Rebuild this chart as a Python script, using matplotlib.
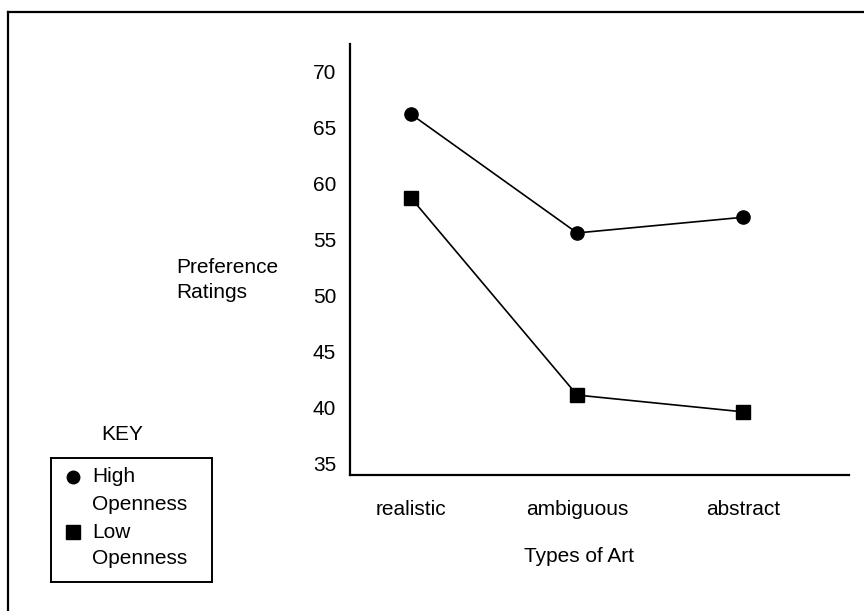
"""
Preference ratings by type of art, high vs low openness.
"""

import matplotlib.pyplot as plt
from matplotlib.lines import Line2D

# ── DATA ──────────────────────────────────────────────────────────────────────
art_types     = ["realistic", "ambiguous", "abstract"]
high_openness = [66.2, 55.6, 57.0]
low_openness  = [58.7, 41.1, 39.6]
y_ticks       = [35, 40, 45, 50, 55, 60, 65, 70]

W, H = 864, 611
FONT = ["Liberation Sans", "DejaVu Sans"]
FS   = 15

plt.rcParams["font.family"] = FONT


def fx(px):
    return px / W


def fy(py):
    return 1 - py / H


def main():
    fig = plt.figure(figsize=(W / 100, H / 100), dpi=100)

    # ── outer frame (open at bottom/right like the scan) ─────────────────────
    fig.add_artist(Line2D([fx(8), fx(864)], [fy(12), fy(12)], color="black", lw=1.6))
    fig.add_artist(Line2D([fx(8), fx(8)], [fy(12), fy(611)], color="black", lw=1.6))

    # ── main plot ────────────────────────────────────────────────────────────
    ax = fig.add_axes([fx(350), fy(475), fx(849) - fx(350), fy(44) - fy(475)])
    x = list(range(len(art_types)))
    ax.plot(x, high_openness, color="black", lw=1.2, marker="o", ms=9.5,
            markeredgecolor="black", markerfacecolor="black")
    ax.plot(x, low_openness, color="black", lw=1.2, marker="s", ms=10.5,
            markeredgecolor="black", markerfacecolor="black")

    ax.set_xlim(-0.37, 2.64)
    ax.set_ylim(33.95, 72.5)
    ax.set_xticks(x)
    ax.set_xticklabels(art_types, fontsize=FS)
    ax.set_yticks(y_ticks)
    ax.set_yticklabels([str(v) for v in y_ticks], fontsize=FS)
    ax.tick_params(axis="both", length=0)
    ax.tick_params(axis="y", pad=10)
    ax.tick_params(axis="x", pad=18)
    for side in ("top", "right"):
        ax.spines[side].set_visible(False)
    for side in ("left", "bottom"):
        ax.spines[side].set_linewidth(1.6)

    fig.text(fx(579), fy(556), "Types of Art", fontsize=FS, ha="center", va="center")
    fig.text(fx(176), fy(280), "Preference\nRatings", fontsize=FS, ha="left",
             va="center", linespacing=1.45)

    # ── key ──────────────────────────────────────────────────────────────────
    fig.text(fx(122), fy(435), "KEY", fontsize=FS, ha="center", va="center")
    kax = fig.add_axes([fx(51), fy(582), fx(212) - fx(51), fy(458) - fy(582)])
    kax.set_xlim(51, 212)
    kax.set_ylim(582, 458)
    kax.set_xticks([])
    kax.set_yticks([])
    for s in kax.spines.values():
        s.set_linewidth(1.4)
    kax.plot([73], [477], marker="o", ms=9, color="black", ls="none")
    kax.plot([73], [532], marker="s", ms=10, color="black", ls="none")
    for yy, txt in [(477, "High"), (505, "Openness"), (532, "Low"), (558, "Openness")]:
        kax.text(92, yy, txt, fontsize=FS, ha="left", va="center")

    fig.savefig("out.png", dpi=100)


if __name__ == "__main__":
    main()
